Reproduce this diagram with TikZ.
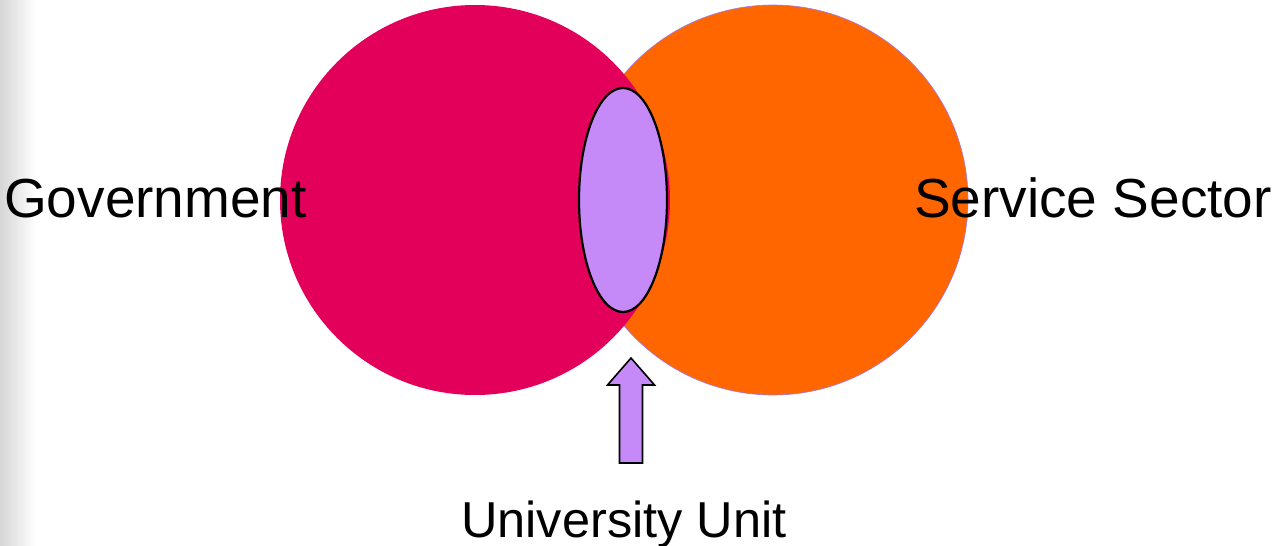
\documentclass[tikz,border=0pt]{standalone}
\usepackage{fontspec}
\setmainfont{Liberation Sans}
\usetikzlibrary{shapes.geometric}
\definecolor{govred}{HTML}{E3005A}
\definecolor{servorange}{HTML}{FF6600}
\definecolor{unilav}{HTML}{C58AF8}
\definecolor{edgepurple}{HTML}{9A7AF0}
\begin{document}
\begin{tikzpicture}[x=1pt,y=-1pt,
  bigcircle/.style={circle, minimum size=390pt, inner sep=0pt},
  label/.style={font=\fontsize{55}{66}\selectfont, inner sep=0pt},
]
\useasboundingbox (0,0) rectangle (1275,546);
\shade[left color=black!16, right color=white] (0,0) rectangle (36,546);
\node[bigcircle, fill=servorange, draw=edgepurple, line width=0.6pt] (serv) at (773,200) {};
\node[bigcircle, fill=govred] (gov) at (475,200) {};
\node[ellipse, fill=unilav, draw=black, line width=2.2pt, minimum width=88pt, minimum height=224pt, inner sep=0pt] (uni) at (623,200) {};
\draw[fill=unilav, draw=black, line width=1.6pt, line join=miter]
  (619.5,463) -- (619.5,385) -- (607.5,385) -- (631,358) -- (654.5,385) -- (642.5,385) -- (642.5,463) -- cycle;
\node[label, anchor=base west] (govt) at (4,217) {Government};
\node[label, anchor=base east] (servt) at (1272,217) {Service Sector};
\node[label, font=\fontsize{50.5}{60}\selectfont, anchor=base] (unit) at (624,537) {University Unit};
\end{tikzpicture}
\end{document}
